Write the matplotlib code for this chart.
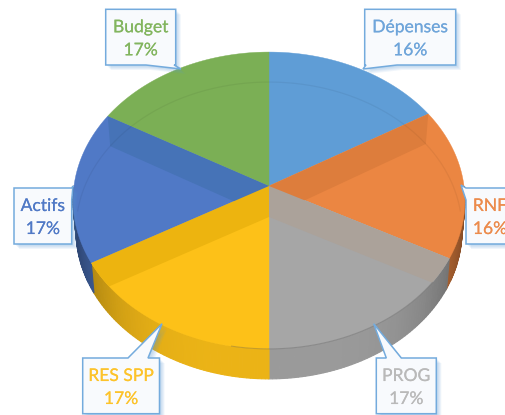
import numpy as np
import matplotlib
matplotlib.use("Agg")
import matplotlib.pyplot as plt
from matplotlib.patches import Polygon
from matplotlib.colors import to_rgb
import matplotlib.patheffects as pe

names = ["Dépenses", "RNF", "PROG", "RES SPP", "Actifs", "Budget"]
values = [16.4, 16.4, 17.2, 16.7, 16.6, 16.7]
colors = ["#5F9DD6", "#EB8642", "#A6A6A6", "#FDC118", "#5079C6", "#7BAF55"]
text_colors = ["#6FA5DA", "#EC8B4C", "#B9B9B9", "#FDC32A", "#5079C6", "#82B55E"]
# darker band where a slice wall shows through the top
wall_colors = {1: "#DD7D3C", 2: "#ABA29A", 3: "#EDB40F", 4: "#4673B7"}

# callout layout: left, top, right, bottom, pointer tip, pointer base
boxes = [
    (364.7, 9.3, 455.7, 65, (363, 69), (366, 397)),
    (466, 188, 516, 244, (461, 185), (188, 200)),
    (376.3, 358, 436.3, 413.7, (373.7, 323.7), (386.3, 401.3)),
    (82.7, 358, 159.5, 413.7, (162, 323.7), (128, 148)),
    (14, 188, 71.7, 244, (73, 186), (188, 200)),
    (105.7, 9.3, 175.7, 65, (181, 69), (146, 174)),
]

cx, cy = 269, 186
a, b, k = 195, 147, 0.0975
depth = 30


def rim(theta):
    # clockwise from the top, degrees, with the perspective of the 3D pie
    t = np.radians(theta)
    w = 1 + k * np.cos(t)
    return cx + a * np.sin(t) / w, cy - b * np.cos(t) / w


def low_rim(theta):
    x, y = rim(theta)
    return cx + (x - cx) * 0.985, y + depth


def wedge_xy(t0, t1):
    t = np.linspace(t0, t1, 80)
    x, y = rim(t)
    return np.column_stack([np.r_[cx, x], np.r_[cy, y]])


edges = np.r_[0, np.cumsum(values)] / np.sum(values) * 360

fig = plt.figure(figsize=(5.06, 4.15), dpi=100)
ax = fig.add_axes([0, 0, 1, 1])
ax.set_xlim(0, 506)
ax.set_ylim(415, 0)
ax.axis("off")

# outer wall, one thin strip per degree so it can shade off to the sides
for i in range(len(values)):
    for t in np.arange(max(edges[i], 90), min(edges[i + 1], 270), 1.0):
        shade = 0.93 - 0.38 * abs(np.sin(np.radians(t + 0.5))) ** 4
        c = np.array(to_rgb(colors[i])) * shade
        x0, y0 = rim(t)
        x1, y1 = rim(t + 1)
        x2, y2 = low_rim(t + 1)
        x3, y3 = low_rim(t)
        ax.add_patch(Polygon([(x0, y0), (x1, y1), (x2, y2), (x3, y3)],
                             facecolor=c, edgecolor=c, lw=0.8, zorder=1))

# top face
for i in range(len(values)):
    ax.add_patch(Polygon(wedge_xy(edges[i], edges[i + 1]), facecolor=colors[i],
                         edgecolor=colors[i], lw=0.3, zorder=2))

tt = np.linspace(0, 360, 361)
top_x, top_y = rim(tt)
clip = Polygon(np.column_stack([top_x, top_y]), transform=ax.transData)

# inner walls, seen through the top face
for i, t in [(1, edges[1]), (4, edges[5]), (2, edges[2]), (3, edges[4])]:
    x, y = rim(t)
    lx, ly = low_rim(t)
    p = Polygon([(cx, cy), (x, y), (lx, ly), (cx, cy + depth + 1)],
                facecolor=wall_colors[i], edgecolor="none", zorder=3)
    ax.add_patch(p)
    p.set_clip_path(clip)

# bottom rim showing through at the back, top rim at the front
t_back = np.linspace(-88, 88, 200)
lx, ly = low_rim(t_back)
line, = ax.plot(lx, ly, color="#000000", alpha=0.05, lw=0.9, zorder=4)
line.set_clip_path(clip)
t_front = np.linspace(edges[2] + 10, edges[3] + 10, 200)
fx, fy = rim(t_front)
ax.plot(fx, fy, color="#555555", alpha=0.3, lw=0.8, zorder=4)

# callouts
for i, (l, t, r, bt, tip, base) in enumerate(boxes):
    if t - 4 < tip[1] < bt + 3 and tip[0] > r:
        pts = [(l, t), (r, t), (r, base[0]), tip, (r, base[1]), (r, bt), (l, bt)]
    elif t - 4 < tip[1] < bt + 3 and tip[0] < l:
        pts = [(l, t), (r, t), (r, bt), (l, bt), (l, base[1]), tip, (l, base[0])]
    elif tip[1] < t:
        pts = [(l, t), (base[0], t), tip, (base[1], t), (r, t), (r, bt), (l, bt)]
    else:
        pts = [(l, t), (r, t), (r, bt), (base[1], bt), tip, (base[0], bt), (l, bt)]
    pts = np.array(pts, dtype=float)
    for off in [5, 4, 3, 2, 1]:
        ax.add_patch(Polygon(pts + off, facecolor="#5B9BD5", alpha=0.09,
                             edgecolor="none", zorder=5))
    ax.add_patch(Polygon(pts, facecolor="#F8FAFD", edgecolor="#74ABDD",
                         lw=1.1, zorder=6))
    tx = (l + r) / 2 if r < 506 else 490
    for txt, ty in [(names[i], t + 18), (f"{round(values[i])}%", t + 41)]:
        lab = ax.text(tx, ty, txt, color=text_colors[i], family="Lato",
                      fontsize=12.6, ha="center", va="center", zorder=7)
        lab.set_path_effects([pe.withStroke(linewidth=0.1, foreground=text_colors[i])])

fig.savefig("out.png", dpi=100, facecolor="white")
